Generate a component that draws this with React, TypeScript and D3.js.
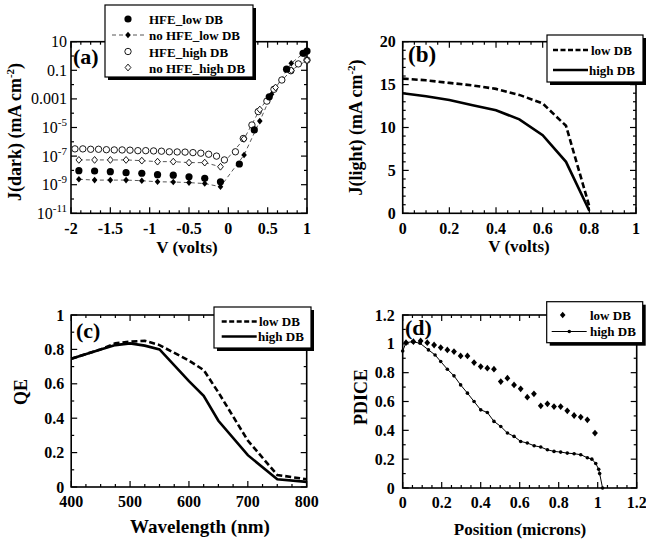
import React from 'react';
import * as d3 from 'd3';

const FONT = '"Liberation Serif", "Times New Roman", Times, serif';

// ---------- Panel (a): dark J-V (log scale) ----------
const aV_hfeLow = [-1.9, -1.7, -1.5, -1.3, -1.1, -0.9, -0.7, -0.5, -0.3, -0.1, 0.14, 0.33, 0.52, 0.74, 0.95, 1.0];
const aJ_hfeLow = [9.5e-9, 9.1e-9, 8.1e-9, 6.9e-9, 6.3e-9, 5.0e-9, 4.6e-9, 3.6e-9, 2.8e-9, 1.6e-9, 2.8e-8, 6.8e-6, 1.4e-3, 0.12, 1.55, 2.2];

const aV_noHfeLow = [-1.9, -1.7, -1.5, -1.3, -1.1, -0.9, -0.7, -0.5, -0.3, -0.1, 0.2, 0.4, 0.55, 0.8, 0.98];
const aJ_noHfeLow = [2.4e-9, 2.1e-9, 2.1e-9, 2.1e-9, 1.9e-9, 1.6e-9, 1.55e-9, 1.4e-9, 1.2e-9, 7.2e-10, 1.2e-7, 2.8e-5, 2.1e-3, 0.31, 2.0];

const aV_hfeHigh = [-1.95, -1.85, -1.75, -1.65, -1.55, -1.45, -1.35, -1.25, -1.15, -1.05, -0.95, -0.85, -0.75, -0.65, -0.55, -0.45, -0.35, -0.25, -0.15, -0.05, 0.09, 0.19, 0.3, 0.38, 0.49, 0.58, 0.68, 0.795, 0.89, 1.0];
const aJ_hfeHigh = [3.2e-7, 3.2e-7, 3.0e-7, 3.0e-7, 2.8e-7, 2.7e-7, 2.7e-7, 2.6e-7, 2.4e-7, 2.4e-7, 2.3e-7, 2.2e-7, 2.0e-7, 1.95e-7, 1.9e-7, 1.75e-7, 1.6e-7, 1.35e-7, 1.0e-7, 5.4e-8, 2.0e-7, 1.7e-6, 1.5e-5, 1.3e-4, 7e-4, 4.7e-3, 0.021, 0.093, 0.28, 0.52];

const aV_noHfeHigh = [-1.9, -1.7, -1.5, -1.3, -1.1, -0.9, -0.7, -0.5, -0.3, -0.1, 0.2, 0.4, 0.6, 0.8, 1.0];
const aJ_noHfeHigh = [5.4e-8, 5.4e-8, 5.4e-8, 5.4e-8, 4.8e-8, 4.1e-8, 4.1e-8, 3.5e-8, 3.5e-8, 1.8e-8, 1.6e-6, 1.8e-4, 6.3e-3, 0.1, 0.5];

const aYLabelExps = [1, -1, -3, -5, -7, -9, -11];

// ---------- Panel (b): light J-V ----------
const bV = [0, 0.1, 0.2, 0.3, 0.4, 0.5, 0.6, 0.7, 0.8];
const bLow = [15.7, 15.5, 15.2, 14.9, 14.5, 13.8, 12.8, 10.2, 0.8];
const bHigh = [14.0, 13.65, 13.2, 12.6, 12.0, 10.95, 9.1, 6.0, 0.3];

// ---------- Panel (c): QE ----------
const cWl = [400, 450, 475, 500, 525, 550, 600, 625, 650, 700, 750, 800];
const cLow = [0.745, 0.8, 0.835, 0.845, 0.85, 0.825, 0.735, 0.68, 0.55, 0.27, 0.07, 0.045];
const cHigh = [0.745, 0.8, 0.825, 0.835, 0.822, 0.8, 0.615, 0.53, 0.385, 0.185, 0.045, 0.03];

// ---------- Panel (d): PDICE ----------
const dLowPos = [0.017, 0.055, 0.092, 0.126, 0.161, 0.195, 0.229, 0.263, 0.297, 0.332, 0.366, 0.4, 0.434, 0.468, 0.503, 0.537, 0.571, 0.605, 0.639, 0.673, 0.708, 0.742, 0.776, 0.81, 0.844, 0.879, 0.913, 0.947, 0.986];
const dLowVal = [1.008, 1.015, 1.02, 1.008, 0.992, 0.974, 0.958, 0.946, 0.916, 0.916, 0.87, 0.842, 0.831, 0.824, 0.738, 0.762, 0.715, 0.688, 0.63, 0.653, 0.57, 0.584, 0.565, 0.565, 0.535, 0.503, 0.492, 0.473, 0.381];
const dHighPos = [0.0, 0.017, 0.051, 0.089, 0.132, 0.166, 0.195, 0.229, 0.263, 0.297, 0.332, 0.366, 0.4, 0.434, 0.468, 0.503, 0.537, 0.571, 0.605, 0.639, 0.674, 0.708, 0.742, 0.776, 0.81, 0.844, 0.879, 0.913, 0.947, 0.97, 0.99, 1.005, 1.01, 1.025];
const dHighVal = [0.95, 1.008, 1.015, 1.004, 0.958, 0.923, 0.877, 0.824, 0.778, 0.715, 0.658, 0.6, 0.542, 0.524, 0.462, 0.427, 0.381, 0.358, 0.323, 0.312, 0.293, 0.284, 0.265, 0.254, 0.249, 0.242, 0.238, 0.231, 0.21, 0.2, 0.17, 0.13, 0.1, 0.0];

type Box = { l: number; r: number; t: number; b: number };
type Tick = { v: number; major: boolean };

function linTicks(min: number, max: number, minor: number, major: number): Tick[] {
  const n = Math.round((max - min) / minor);
  return d3.range(n + 1).map(i => {
    const v = +(min + i * minor).toFixed(6);
    const q = (v - min) / major;
    return { v, major: Math.abs(q - Math.round(q)) < 1e-6 };
  });
}

const fmt = (v: number) => String(+v.toFixed(3));

function Frame({ box, x, y, xt, yt, majLen = 6, minLen = 3 }: any) {
  const els: any[] = [];
  xt.forEach((t: Tick, i: number) => {
    const px = x(t.v);
    const L = t.major ? majLen : minLen;
    els.push(<line key={'xb' + i} x1={px} x2={px} y1={box.b} y2={box.b - L} />);
    els.push(<line key={'xt' + i} x1={px} x2={px} y1={box.t} y2={box.t + L} />);
  });
  yt.forEach((t: Tick, i: number) => {
    const py = y(t.v);
    const L = t.major ? majLen : minLen;
    els.push(<line key={'yl' + i} x1={box.l} x2={box.l + L} y1={py} y2={py} />);
    els.push(<line key={'yr' + i} x1={box.r} x2={box.r - L} y1={py} y2={py} />);
  });
  return (
    <g stroke="#000" strokeWidth={1.2} fill="none">
      {els}
      <rect x={box.l} y={box.t} width={box.r - box.l} height={box.b - box.t} strokeWidth={1.6} />
    </g>
  );
}

function Legend({ x, y, w, h }: any) {
  return (
    <g>
      <rect x={x + 3} y={y + 3} width={w} height={h} fill="#000" />
      <rect x={x} y={y} width={w} height={h} fill="#fff" stroke="#000" strokeWidth={1.2} />
    </g>
  );
}

const diamond = (s: number) => `M0,${-s}L${s * 0.85},0L0,${s}L${-s * 0.85},0Z`;

export default function App() {
  // ---------- (a) ----------
  const A: Box = { l: 71, r: 307, t: 41.7, b: 213.3 };
  const ax = d3.scaleLinear().domain([-2, 1]).range([A.l, A.r]);
  const ay = d3.scaleLog().domain([1e-11, 10]).range([A.b, A.t]);
  const axT = linTicks(-2, 1, 0.125, 0.5);
  const ayT: Tick[] = d3.range(-11, 2).map(e => ({ v: Math.pow(10, e), major: e % 2 !== 0 }));
  const lineA = (V: number[], J: number[]) =>
    d3.line<number>().x((_, i) => ax(V[i])).y((_, i) => ay(J[i]))(V) as string;

  // ---------- (b) ----------
  const B: Box = { l: 402.7, r: 636, t: 41.7, b: 213.3 };
  const bx = d3.scaleLinear().domain([0, 1]).range([B.l, B.r]);
  const by = d3.scaleLinear().domain([0, 20]).range([B.b, B.t]);
  const bxT = linTicks(0, 1, 0.05, 0.2);
  const byT = linTicks(0, 20, 1, 5);
  const lineB = (Y: number[]) => d3.line<number>().x((_, i) => bx(bV[i])).y((_, i) => by(Y[i]))(bV) as string;

  // ---------- (c) ----------
  const C: Box = { l: 71.2, r: 306.7, t: 315, b: 487 };
  const cx = d3.scaleLinear().domain([400, 800]).range([C.l, C.r]);
  const cy = d3.scaleLinear().domain([0, 1]).range([C.b, C.t]);
  const cxT = linTicks(400, 800, 25, 100);
  const cyT = linTicks(0, 1, 0.1, 0.2);
  const lineC = (Y: number[]) => d3.line<number>().x((_, i) => cx(cWl[i])).y((_, i) => cy(Y[i]))(cWl) as string;

  // ---------- (d) ----------
  const D: Box = { l: 402.7, r: 636.7, t: 315, b: 488 };
  const dx = d3.scaleLinear().domain([0, 1.2]).range([D.l, D.r]);
  const dy = d3.scaleLinear().domain([0, 1.2]).range([D.b, D.t]);
  const dxT = linTicks(0, 1.2, 0.05, 0.2);
  const dyT = linTicks(0, 1.2, 0.1, 0.2);
  const lineD = d3.line<number>().x((_, i) => dx(dHighPos[i])).y((_, i) => dy(dHighVal[i]))(dHighPos) as string;

  const tickFont = { fontFamily: FONT, fontWeight: 700, fontSize: 16 } as any;
  const titleFont = { fontFamily: FONT, fontWeight: 700, fontSize: 17 } as any;
  const yTitleFont = { fontFamily: FONT, fontWeight: 700, fontSize: 18 } as any;
  const legFont = { fontFamily: FONT, fontWeight: 700, fontSize: 13 } as any;

  return (
    <svg width={646} height={545} style={{ position: 'absolute', left: 0, top: 0, background: '#fff' }}>
      <rect x={0} y={0} width={646} height={545} fill="#fff" />

      {/* ================= (a) ================= */}
      <Frame box={A} x={ax} y={ay} xt={axT} yt={ayT} />
      {axT.filter(t => t.major).map((t, i) => (
        <text key={'axl' + i} x={ax(t.v)} y={234} textAnchor="middle" {...tickFont}>{fmt(t.v)}</text>
      ))}
      {aYLabelExps.map((e, i) => {
        const py = ay(Math.pow(10, e)) + 5.5;
        if (e >= -3) {
          const s = e === 1 ? '10' : e === -1 ? '0.1' : '0.001';
          return <text key={'ayl' + i} x={A.l - 4} y={py} textAnchor="end" fontFamily={FONT} fontSize={16}>{s}</text>;
        }
        return (
          <text key={'ayl' + i} x={A.l - 4} y={py} textAnchor="end" fontFamily={FONT} fontSize={16}>
            10<tspan dy={-7} fontSize={11}>{String(e)}</tspan>
          </text>
        );
      })}
      <path d={lineA(aV_noHfeLow, aJ_noHfeLow)} fill="none" stroke="#444" strokeWidth={0.9} strokeDasharray="4,3" />
      <path d={lineA(aV_noHfeHigh, aJ_noHfeHigh)} fill="none" stroke="#444" strokeWidth={0.9} strokeDasharray="4,3" />
      {aV_hfeHigh.map((v, i) => (
        <circle key={'ahh' + i} cx={ax(v)} cy={ay(aJ_hfeHigh[i])} r={3.2} fill="#fff" stroke="#000" strokeWidth={0.9} />
      ))}
      {aV_noHfeHigh.map((v, i) => (
        <path key={'anh' + i} d={diamond(3.4)} transform={`translate(${ax(v)},${ay(aJ_noHfeHigh[i])})`} fill="#fff" stroke="#000" strokeWidth={0.9} />
      ))}
      {aV_hfeLow.map((v, i) => (
        <circle key={'ahl' + i} cx={ax(v)} cy={ay(aJ_hfeLow[i])} r={3.6} fill="#000" />
      ))}
      {aV_noHfeLow.map((v, i) => (
        <path key={'anl' + i} d={diamond(3.3)} transform={`translate(${ax(v)},${ay(aJ_noHfeLow[i])})`} fill="#000" />
      ))}
      <text x={73} y={64} fontFamily={FONT} fontWeight={700} fontSize={22}>(a)</text>
      <text x={187} y={253} textAnchor="middle" {...titleFont}>V (volts)</text>
      <text transform="translate(21,132) rotate(-90)" textAnchor="middle" {...yTitleFont}>
        J(dark) (mA cm<tspan dy={-7} fontSize={11}>-2</tspan><tspan dy={7}>)</tspan>
      </text>
      {/* legend a */}
      <Legend x={105} y={5} w={148} h={72} />
      <circle cx={128} cy={19} r={3.6} fill="#000" />
      <line x1={112} x2={145} y1={35} y2={35} stroke="#444" strokeWidth={0.9} strokeDasharray="4,3" />
      <path d={diamond(3.3)} transform="translate(128,35)" fill="#000" />
      <circle cx={128} cy={51.5} r={3.2} fill="#fff" stroke="#000" strokeWidth={0.9} />
      <path d={diamond(3.4)} transform="translate(128,67.5)" fill="#fff" stroke="#000" strokeWidth={0.9} />
      <text x={149} y={24} {...legFont}>HFE_low DB</text>
      <text x={149} y={40} {...legFont}>no HFE_low DB</text>
      <text x={149} y={56.5} {...legFont}>HFE_high DB</text>
      <text x={149} y={72.5} {...legFont}>no HFE_high DB</text>

      {/* ================= (b) ================= */}
      <Frame box={B} x={bx} y={by} xt={bxT} yt={byT} />
      {bxT.filter(t => t.major).map((t, i) => (
        <text key={'bxl' + i} x={bx(t.v)} y={234} textAnchor="middle" {...tickFont}>{fmt(t.v)}</text>
      ))}
      {byT.filter(t => t.major).map((t, i) => (
        <text key={'byl' + i} x={B.l - 7} y={by(t.v) + 5.5} textAnchor="end" {...tickFont}>{fmt(t.v)}</text>
      ))}
      <path d={lineB(bLow)} fill="none" stroke="#000" strokeWidth={2.6} strokeDasharray="6,3" />
      <path d={lineB(bHigh)} fill="none" stroke="#000" strokeWidth={2.6} />
      <text x={408} y={62} fontFamily={FONT} fontWeight={700} fontSize={23}>(b)</text>
      <text x={519} y={252} textAnchor="middle" {...titleFont}>V (volts)</text>
      <text transform="translate(362,127.5) rotate(-90)" textAnchor="middle" {...yTitleFont}>
        J(light) (mA cm<tspan dy={-7} fontSize={11}>-2</tspan><tspan dy={7}>)</tspan>
      </text>
      <Legend x={547} y={35} w={96} h={47} />
      <line x1={553} x2={588} y1={50} y2={50} stroke="#000" strokeWidth={2.4} strokeDasharray="5,2.5" />
      <line x1={553} x2={588} y1={70} y2={70} stroke="#000" strokeWidth={2.4} />
      <text x={591} y={54.5} {...legFont}>low DB</text>
      <text x={589} y={74.5} {...legFont}>high DB</text>

      {/* ================= (c) ================= */}
      <Frame box={C} x={cx} y={cy} xt={cxT} yt={cyT} />
      {cxT.filter(t => t.major).map((t, i) => (
        <text key={'cxl' + i} x={cx(t.v)} y={507} textAnchor="middle" {...tickFont}>{fmt(t.v)}</text>
      ))}
      {cyT.filter(t => t.major).map((t, i) => (
        <text key={'cyl' + i} x={C.l - 7} y={cy(t.v) + 5.5} textAnchor="end" {...tickFont}>{fmt(t.v)}</text>
      ))}
      <path d={lineC(cLow)} fill="none" stroke="#000" strokeWidth={2.6} strokeDasharray="6,3" />
      <path d={lineC(cHigh)} fill="none" stroke="#000" strokeWidth={2.6} />
      <text x={76} y={338} fontFamily={FONT} fontWeight={700} fontSize={22}>(c)</text>
      <text x={200} y={533} textAnchor="middle" fontFamily={FONT} fontWeight={700} fontSize={19}>Wavelength (nm)</text>
      <text transform="translate(27,392) rotate(-90)" textAnchor="middle" {...yTitleFont}>QE</text>
      <Legend x={214} y={307} w={97} h={41} />
      <line x1={221.7} x2={256.7} y1={321.5} y2={321.5} stroke="#000" strokeWidth={2.4} strokeDasharray="5,2.5" />
      <line x1={221.7} x2={256.7} y1={336.5} y2={336.5} stroke="#000" strokeWidth={2.4} />
      <text x={259} y={326} {...legFont}>low DB</text>
      <text x={258} y={341} {...legFont}>high DB</text>

      {/* ================= (d) ================= */}
      <Frame box={D} x={dx} y={dy} xt={dxT} yt={dyT} />
      {dxT.filter(t => t.major).map((t, i) => (
        <text key={'dxl' + i} x={dx(t.v)} y={508} textAnchor="middle" {...tickFont}>{fmt(t.v)}</text>
      ))}
      {dyT.filter(t => t.major).map((t, i) => (
        <text key={'dyl' + i} x={D.l - 8} y={dy(t.v) + 5.5} textAnchor="end" {...tickFont}>{fmt(t.v)}</text>
      ))}
      <path d={lineD} fill="none" stroke="#000" strokeWidth={1} />
      {dHighPos.map((p, i) => (
        <circle key={'dh' + i} cx={dx(p)} cy={dy(dHighVal[i])} r={1.8} fill="#000" />
      ))}
      {dLowPos.map((p, i) => (
        <path key={'dl' + i} d={diamond(3.4)} transform={`translate(${dx(p)},${dy(dLowVal[i])})`} fill="#000" />
      ))}
      <text x={405} y={335} fontFamily={FONT} fontWeight={700} fontSize={22}>(d)</text>
      <text x={520} y={535} textAnchor="middle" {...titleFont}>Position (microns)</text>
      <text transform="translate(367,397) rotate(-90)" textAnchor="middle" {...yTitleFont}>PDICE</text>
      <Legend x={546.7} y={301.7} w={96} h={41} />
      <path d={diamond(3.3)} transform="translate(562.7,315)" fill="#000" />
      <line x1={551.7} x2={586.7} y1={331.5} y2={331.5} stroke="#000" strokeWidth={1} />
      <circle cx={569.3} cy={331.5} r={1.8} fill="#000" />
      <text x={590} y={319.5} {...legFont}>low DB</text>
      <text x={590} y={336} {...legFont}>high DB</text>
    </svg>
  );
}
